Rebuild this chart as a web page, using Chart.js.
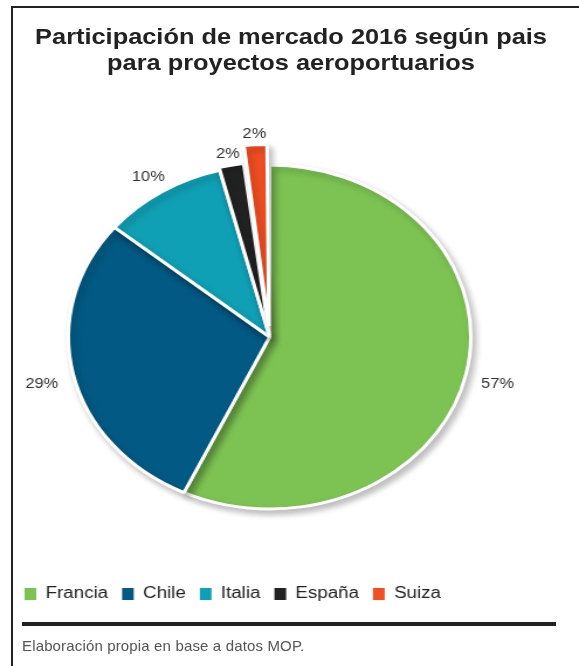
<!DOCTYPE html>
<html>
<head>
<meta charset="utf-8">
<script src="https://cdn.jsdelivr.net/npm/chart.js@4.4.0/dist/chart.umd.min.js"></script>
<style>
  body { margin: 0; background: #fff; }
  #wrap { position: relative; width: 579px; height: 666px; overflow: hidden; }
  /* the original picture is stretched sideways, so the whole chart is too */
  #stretch { position: absolute; left: 0; top: 0; width: 495px; height: 666px; transform: scaleX(1.1697); transform-origin: 0 0; }
  #myPie { position: absolute; left: 0; top: 0; }
  .title { position: absolute; left: 0; top: 24px; width: 497.6px; text-align: center;
           font: bold 21.7px/26px "Liberation Sans", Arial, sans-serif; color: #222; }
  .frameTop { position: absolute; left: 11px; top: 6px; width: 570px; height: 2px; background: #222; }
  .frameLeft { position: absolute; left: 11px; top: 6px; width: 2px; height: 670px; background: #222; }
  .rule { position: absolute; left: 22px; top: 622px; width: 534px; height: 4px; background: #222; }
  .source { position: absolute; left: 22px; top: 637px; font: 15px "Liberation Sans", Arial, sans-serif; color: #555; letter-spacing: 0.15px; }
</style>
</head>
<body>
<div id="wrap">
  <div id="stretch">
    <div class="title">Participación de mercado 2016 según pais<br>para proyectos aeroportuarios</div>
    <canvas id="myPie" width="495" height="666"></canvas>
  </div>
  <div class="frameTop"></div>
  <div class="frameLeft"></div>
  <div class="rule"></div>
  <div class="source">Elaboración propia en base a datos MOP.</div>
</div>
<script>
var paises = ["Francia", "Chile", "Italia", "España", "Suiza"];
var participacion = [57, 29, 10, 2, 2];
var etiquetas = ["57%", "29%", "10%", "2%", "2%"];
var colores = ["#7dc353", "#025a84", "#10a0b5", "#222222", "#f04e23"];
var separacion = [0, 0, 0, 6, 44];

var labelsPlugin = {
    id: 'pieLabels',
    beforeDatasetsDraw: function(chart){
        var ctx = chart.ctx;
        ctx.save();
        ctx.shadowColor = "rgba(0,0,0,0.25)";
        ctx.shadowBlur = 6;
        ctx.shadowOffsetX = 3;
        ctx.shadowOffsetY = 4;
    },
    afterDatasetsDraw: function(chart){
        var ctx = chart.ctx;
        ctx.restore();
        var meta = chart.getDatasetMeta(0);
        ctx.save();
        ctx.font = '14px "Liberation Sans", Arial, sans-serif';
        ctx.fillStyle = "#333";
        ctx.textAlign = "center";
        ctx.textBaseline = "middle";
        meta.data.forEach(function(a, i){
            var mid = (a.startAngle + a.endAngle) / 2;
            var w = ctx.measureText(etiquetas[i]).width;
            // arc offset moves a thin slice out by about 0.47 * offset
            var r = a.outerRadius + separacion[i] * 0.47 + 14 + Math.abs(Math.cos(mid)) * w / 2;
            ctx.fillText(etiquetas[i], a.x + Math.cos(mid) * r, a.y + Math.sin(mid) * r + 4);
        });
        ctx.restore();
    }
};

var data = {
    labels: paises,
    datasets: [
        {
            data: participacion,
            backgroundColor: colores,
            borderColor: "#ffffff",
            borderWidth: 3,
            offset: separacion,
            radius: 172
        }
    ]
};

var ctx = document.getElementById("myPie");
var myPie = new Chart(ctx, {
    type: 'pie',
    data: data,
    plugins: [labelsPlugin],
    options: {
        responsive: false,
        animation: false,
        events: [],
        layout: { padding: { left: 9, right: 43, top: 100, bottom: 54 } },
        plugins: {
            tooltip: { enabled: false },
            title: { display: false },
            legend: {
                position: 'bottom',
                align: 'start',
                labels: {
                    boxWidth: 10,
                    boxHeight: 12,
                    padding: 12,
                    color: "#222",
                    font: { family: "'Liberation Sans', Arial, sans-serif", size: 16 },
                    generateLabels: function(chart){
                        var items = Chart.controllers.pie.overrides.plugins.legend.labels.generateLabels(chart);
                        items.forEach(function(it){ it.lineWidth = 0; it.strokeStyle = it.fillStyle; });
                        return items;
                    }
                }
            }
        }
    }
});
</script>
</body>
</html>
